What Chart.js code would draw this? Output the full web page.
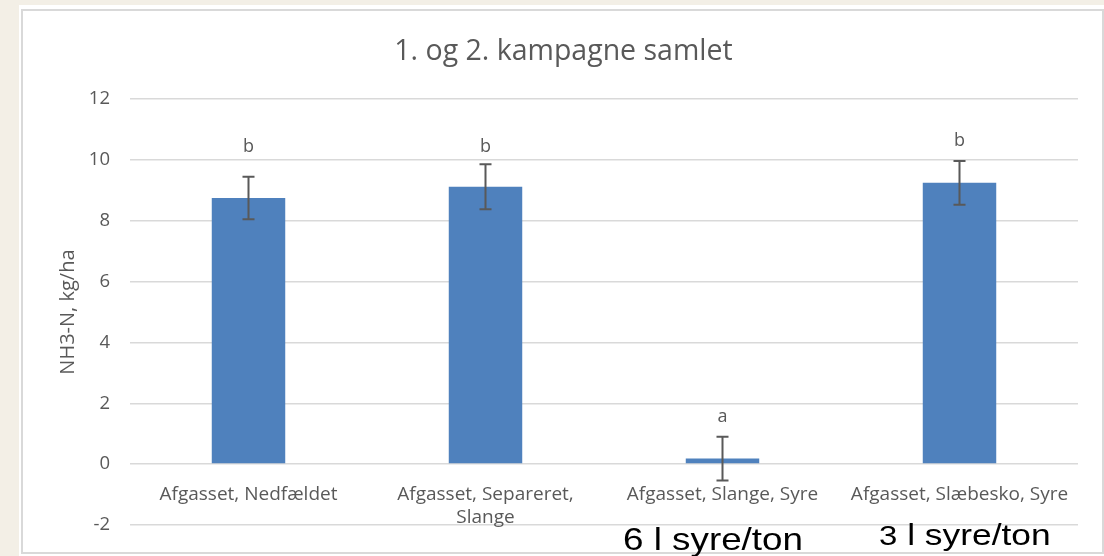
<!DOCTYPE html>
<html>
<head>
<meta charset="utf-8">
<script src="https://cdn.jsdelivr.net/npm/chart.js@4.4.1/dist/chart.umd.min.js"></script>
<style>
  html, body { margin: 0; padding: 0; }
  body { width: 1104px; height: 556px; background: #f3efe6; position: relative; overflow: hidden; }
  .sheet { position: absolute; left: 19px; top: 5px; width: 1085px; height: 551px; background: #fff; }
  .frame { position: absolute; left: 2px; top: 4px; width: 1083px; height: 545px; box-sizing: border-box; border: 2px solid #d9d9d9; }
  #chart { position: absolute; left: 23px; top: 11px; display: block; }
</style>
</head>
<body>
<div class="sheet">
  <div class="frame"></div>
</div>
<canvas id="chart" width="1081" height="545"></canvas>
<script>
// data
const categories = [
  'Afgasset, Nedfældet',
  ['Afgasset, Separeret,', 'Slange'],
  'Afgasset, Slange, Syre',
  'Afgasset, Slæbesko, Syre'
];
const values = [8.75, 9.12, 0.18, 9.25];
const errors = [0.70, 0.74, 0.72, 0.72];
const letters = ['b', 'b', 'a', 'b'];
const letterY = [10.42, 10.42, 1.55, 10.62];
const yTicks = { min: -2, max: 12, step: 2 };
const notes = [
  { parts: [{ text: '6 l syre/ton', size: 32 }], x: 600, y: 539, stretch: 1.15 },
  { parts: [{ text: '3', size: 27 }, { text: ' l syre/ton', size: 29 }], x: 856, y: 534, stretch: 1.22 }
];

const gray = '#595959';
const font = "'Open Sans', 'Noto Sans', sans-serif";

// barres d'erreur + lettres
const errorBars = {
  id: 'errorBars',
  afterDatasetsDraw(chart) {
    const ctx = chart.ctx;
    const meta = chart.getDatasetMeta(0);
    const y = chart.scales.y;
    ctx.save();
    ctx.strokeStyle = gray;
    ctx.lineWidth = 2;
    meta.data.forEach((bar, i) => {
      const top = y.getPixelForValue(values[i] + errors[i]);
      const bot = y.getPixelForValue(values[i] - errors[i]);
      ctx.beginPath();
      ctx.moveTo(bar.x, top); ctx.lineTo(bar.x, bot);
      ctx.moveTo(bar.x - 6, top); ctx.lineTo(bar.x + 6, top);
      ctx.moveTo(bar.x - 6, bot); ctx.lineTo(bar.x + 6, bot);
      ctx.stroke();
    });
    ctx.fillStyle = gray;
    ctx.font = '18px ' + font;
    ctx.textAlign = 'center';
    ctx.textBaseline = 'middle';
    meta.data.forEach((bar, i) => {
      ctx.fillText(letters[i], bar.x, y.getPixelForValue(letterY[i]));
    });
    ctx.restore();
  }
};

// annotations en bas (syre/ton)
const notesPlugin = {
  id: 'notes',
  afterDraw(chart) {
    const ctx = chart.ctx;
    ctx.save();
    ctx.fillStyle = '#000';
    ctx.textBaseline = 'alphabetic';
    ctx.textAlign = 'left';
    notes.forEach(n => {
      ctx.save();
      ctx.translate(n.x, n.y);
      ctx.scale(n.stretch, 1);
      let cx = 0;
      n.parts.forEach(p => {
        ctx.font = p.size + "px 'Liberation Sans', Arial, sans-serif";
        ctx.fillText(p.text, cx, 0);
        cx += ctx.measureText(p.text).width;
      });
      ctx.restore();
    });
    ctx.restore();
  }
};

new Chart(document.getElementById('chart'), {
  type: 'bar',
  data: {
    labels: categories,
    datasets: [{
      label: 'NH3-N',
      data: values,
      backgroundColor: '#4f81bd',
      borderWidth: 0,
      barPercentage: 0.31,
      categoryPercentage: 1
    }]
  },
  options: {
    responsive: false,
    animation: false,
    layout: { padding: { left: 26, right: 26, top: 0, bottom: 30 } },
    plugins: {
      legend: { display: false },
      tooltip: { enabled: false },
      title: {
        display: true,
        text: '1. og 2. kampagne samlet',
        color: gray,
        font: { family: font, size: 28.5, weight: 'normal' },
        padding: { top: 24, bottom: 30 }
      }
    },
    scales: {
      x: {
        position: { y: 0 },
        grid: { display: false, drawTicks: false },
        border: { display: false },
        ticks: { color: gray, font: { family: font, size: 19 }, padding: 19, maxRotation: 0, autoSkip: false }
      },
      y: {
        min: yTicks.min,
        max: yTicks.max,
        afterFit(scale) { scale.width = 81; },
        ticks: { stepSize: yTicks.step, color: gray, font: { family: font, size: 18.5 }, padding: 20 },
        grid: { color: '#d9d9d9', lineWidth: 1.5, drawTicks: false },
        border: { display: false },
        title: {
          display: true,
          text: 'NH3-N, kg/ha',
          color: gray,
          font: { family: font, size: 20 },
          padding: { top: 7, bottom: 4 }
        }
      }
    }
  },
  plugins: [errorBars, notesPlugin]
});
</script>
</body>
</html>
